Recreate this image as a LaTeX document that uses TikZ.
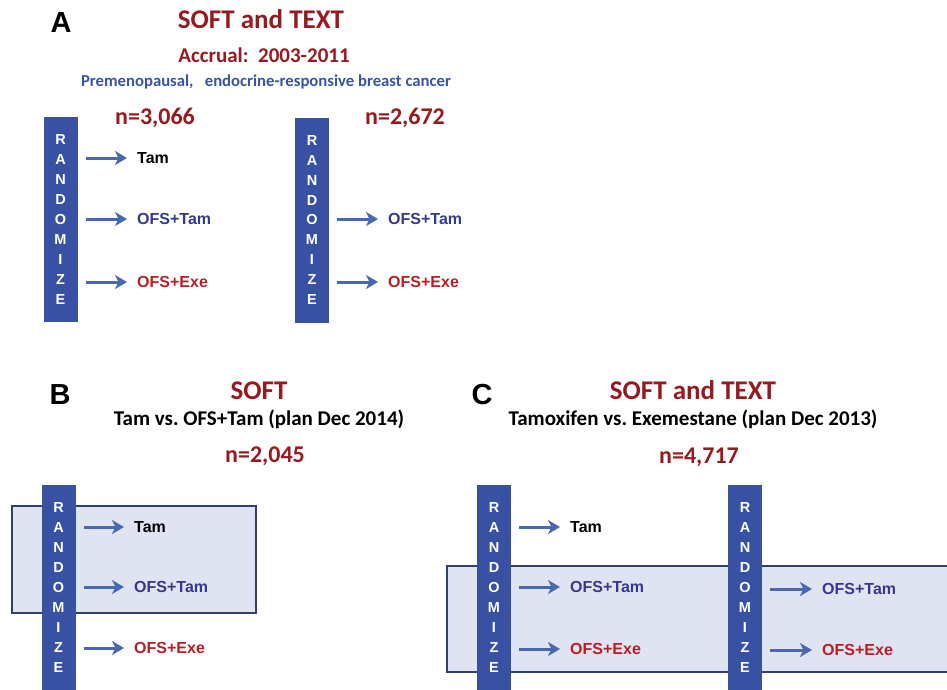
\documentclass[tikz,border=0pt]{standalone}
\usepackage{fontspec}
\setmainfont{Liberation Sans}
\newfontfamily\calfont{Carlito}
\usepackage{tikz}
\usetikzlibrary{arrows.meta,positioning}
\frenchspacing
\definecolor{softred}{RGB}{150,26,30}
\definecolor{popblue}{RGB}{58,84,164}
\definecolor{barblue}{RGB}{57,81,162}
\definecolor{arrowblue}{RGB}{74,104,176}
\definecolor{tamnavy}{RGB}{55,56,138}
\definecolor{exered}{RGB}{185,30,38}
\definecolor{boxfill}{RGB}{224,228,242}
\definecolor{boxedge}{RGB}{52,64,108}

\begin{document}
\begin{tikzpicture}[x=1pt, y=-1pt,
    panel/.style={anchor=base, font=\bfseries\fontsize{29}{32}\selectfont},
    headline/.style={anchor=base, text=softred, font=\calfont\bfseries\fontsize{27}{30}\selectfont},
    subline/.style={anchor=base, font=\calfont\bfseries\fontsize{21}{24}\selectfont},
    count/.style={anchor=base, text=softred, font=\calfont\bfseries\fontsize{24}{28}\selectfont},
    randbar/.style={rectangle, fill=barblue, minimum width=34pt, minimum height=205pt, inner sep=0pt,
      align=center, text=white, font=\bfseries\fontsize{14.5}{19.9}\selectfont},
    arm/.style={anchor=west, inner sep=0pt, font=\bfseries\fontsize{16}{18}\selectfont},
    tamarm/.style={arm, text=black},
    ofstam/.style={arm, text=tamnavy},
    ofsexe/.style={arm, text=exered},
    arr/.style={draw=arrowblue, line width=3pt, -{Stealth[length=12pt,width=14pt,inset=3.5pt]},
      shorten <=8pt, shorten >=10pt},
    cohort/.style={draw=boxedge, line width=2pt, fill=boxfill}
  ]
    \useasboundingbox (0,0) rectangle (947,689);
    \clip (0,0) rectangle (947,689);

    % Panel A -- both trials
    \node[panel] (pA) at (61,32) {A};
    \node[headline] (tA1) at (261,28) {SOFT and TEXT};
    \node[subline, text=softred] (tA2) at (264,62) {Accrual:\ \ 2003-2011};
    \node[anchor=base, text=popblue, font=\calfont\bfseries\fontsize{16.7}{19}\selectfont] (tA3) at (266,86)
      {Premenopausal,\ \ \ endocrine-responsive breast cancer};
    \node[count] (nA1) at (155,124) {n=3,066};
    \node[count] (nA2) at (405,124) {n=2,672};

    \node[randbar] (rA1) at (60.5,219.5) {R\\A\\N\\D\\O\\M\\I\\Z\\E};
    \node[randbar] (rA2) at (312,220) {R\\A\\N\\D\\O\\M\\I\\Z\\E};

    \node[tamarm] (a1) at (137,158) {Tam};
    \node[ofstam] (a2) at (137,219) {OFS+Tam};
    \node[ofsexe] (a3) at (137,282) {OFS+Exe};
    \node[ofstam] (a4) at (388,219) {OFS+Tam};
    \node[ofsexe] (a5) at (388,282) {OFS+Exe};

    \draw[arr] (rA1.east |- a1.west) -- (a1.west);
    \draw[arr] (rA1.east |- a2.west) -- (a2.west);
    \draw[arr] (rA1.east |- a3.west) -- (a3.west);
    \draw[arr] (rA2.east |- a4.west) -- (a4.west);
    \draw[arr] (rA2.east |- a5.west) -- (a5.west);

    % Panel B -- SOFT only
    \node[panel] (pB) at (60,404) {B};
    \node[headline] (tB1) at (259,399) {SOFT};
    \node[subline] (tB2) at (259,425) {Tam vs. OFS+Tam (plan Dec 2014)};
    \node[count] (nB) at (265,462) {n=2,045};

    \draw[cohort] (12,506) rectangle (256,613);
    \node[randbar] (rB) at (58.5,587.5) {R\\A\\N\\D\\O\\M\\I\\Z\\E};

    \node[tamarm] (b1) at (134,527) {Tam};
    \node[ofstam] (b2) at (134,587) {OFS+Tam};
    \node[ofsexe] (b3) at (134,648) {OFS+Exe};

    \draw[arr] (rB.east |- b1.west) -- (b1.west);
    \draw[arr] (rB.east |- b2.west) -- (b2.west);
    \draw[arr] (rB.east |- b3.west) -- (b3.west);

    % Panel C -- SOFT and TEXT combined
    \node[panel] (pC) at (482,404) {C};
    \node[headline] (tC1) at (693,399) {SOFT and TEXT};
    \node[subline] (tC2) at (693,425) {Tamoxifen vs. Exemestane (plan Dec 2013)};
    \node[count] (nC) at (699,463) {n=4,717};

    \draw[cohort] (447,566) rectangle (960,672);
    \node[randbar] (rC1) at (494,587.5) {R\\A\\N\\D\\O\\M\\I\\Z\\E};
    \node[randbar] (rC2) at (745,587.5) {R\\A\\N\\D\\O\\M\\I\\Z\\E};

    \node[tamarm] (c1) at (570,527) {Tam};
    \node[ofstam] (c2) at (570,587) {OFS+Tam};
    \node[ofsexe] (c3) at (570,649) {OFS+Exe};
    \node[ofstam] (c4) at (822,589) {OFS+Tam};
    \node[ofsexe] (c5) at (822,650) {OFS+Exe};

    \draw[arr] (rC1.east |- c1.west) -- (c1.west);
    \draw[arr] (rC1.east |- c2.west) -- (c2.west);
    \draw[arr] (rC1.east |- c3.west) -- (c3.west);
    \draw[arr] (rC2.east |- c4.west) -- (c4.west);
    \draw[arr] (rC2.east |- c5.west) -- (c5.west);

  \end{tikzpicture}
\end{document}
